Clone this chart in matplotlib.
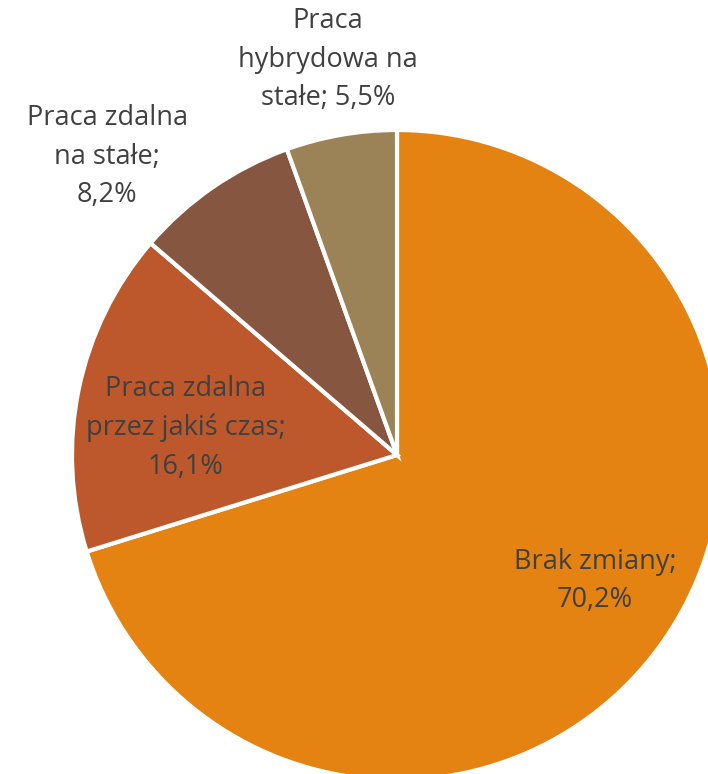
import matplotlib.pyplot as plt
import numpy as np

# --- Data ---
labels = ["Brak zmiany;\n70,2%",
          "Praca zdalna\nprzez jakiś czas;\n16,1%",
          "Praca zdalna\nna stałe;\n8,2%",
          "Praca\nhybrydowa na\nstałe; 5,5%"]
values = [70.2, 16.1, 8.2, 5.5]
colors = ["#E48312", "#BD582C", "#865640", "#9B8357"]
# label placement: distance (fraction of radius), angle shift from wedge middle (deg)
label_dist = [0.723, 0.655, 1.28, 1.235]
label_shift = [3.9, 4.4, 9.6, 0.0]

W, H = 708, 774
CX, CY = 397, 455  # pie centre in pixels (from top-left)
R = 325

fig = plt.figure(figsize=(W / 100, H / 100), dpi=100)
ax = fig.add_axes([0, 0, 1, 1])

wedges, _ = ax.pie(values, colors=colors, startangle=90, counterclock=False,
                   radius=R, wedgeprops=dict(edgecolor="white", linewidth=3))

# pie() resets the limits, so set them afterwards
ax.set_xlim(-CX, W - CX)
ax.set_ylim(-(H - CY), CY)
ax.set_aspect("equal")
ax.axis("off")

for w, lab, d, s in zip(wedges, labels, label_dist, label_shift):
    mid = np.deg2rad((w.theta1 + w.theta2) / 2 + s)
    ax.text(d * R * np.cos(mid), d * R * np.sin(mid), lab,
            ha="center", va="center", fontsize=19.5, color="#404040",
            family="Open Sans", linespacing=1.5)

fig.savefig("out.png", dpi=100)
